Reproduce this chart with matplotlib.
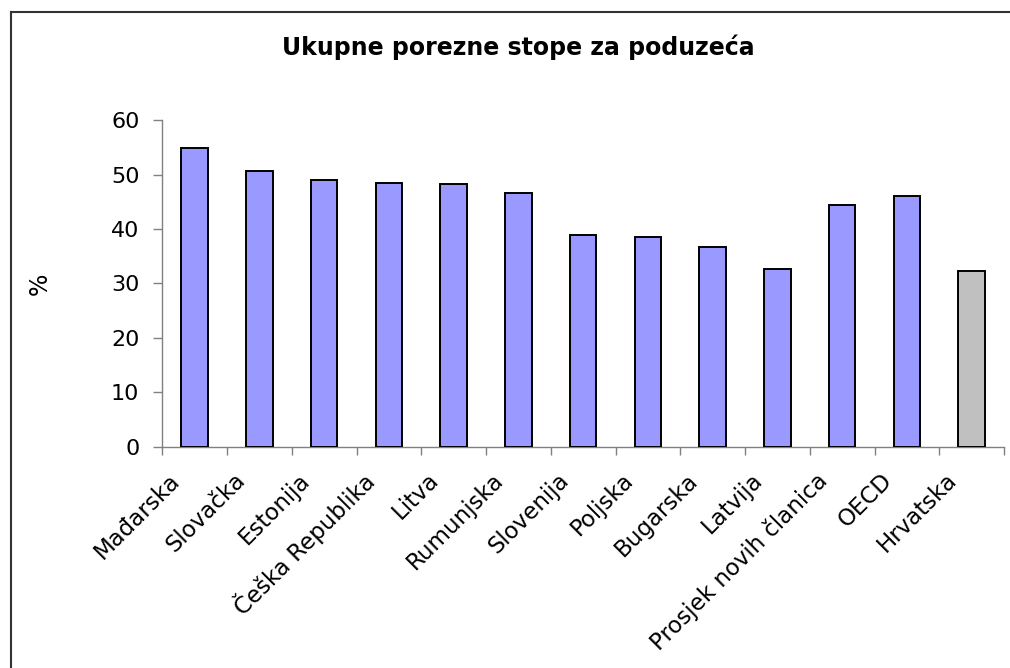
import matplotlib
matplotlib.use("Agg")
import matplotlib.pyplot as plt
import matplotlib.transforms as mtransforms
from matplotlib.lines import Line2D
import numpy as np

plt.rcParams['font.family'] = ['DejaVu Sans']

# podaci
zemlje = ["Mađarska", "Slovačka", "Estonija", "Češka Republika", "Litva",
          "Rumunjska", "Slovenija", "Poljska", "Bugarska", "Latvija",
          "Prosjek novih članica", "OECD", "Hrvatska"]
stope = [55.0, 50.6, 49.1, 48.5, 48.2, 46.7, 39.0, 38.5, 36.8, 32.6, 44.4, 46.1, 32.3]
boje = ["#9999FF"] * 12 + ["#C0C0C0"]

fig = plt.figure(figsize=(10.1, 6.68), dpi=100)
ax = fig.add_axes([0.1607, 0.3313, 0.8334, 0.4886])

x = np.arange(len(zemlje))
ax.bar(x, stope, width=0.41, color=boje, edgecolor="black", linewidth=1.4, zorder=3)

ax.set_xlim(-0.5, len(zemlje) - 0.5)
ax.set_ylim(0, 60)
ax.set_yticks(range(0, 61, 10))
ax.tick_params(axis="y", direction="out", length=6.5, width=1, color="#808080",
               labelsize=16, pad=10)

# oznake kategorija, crtice na granicama
ax.set_xticks(x)
ax.set_xticklabels(zemlje, rotation=45, ha="right", va="center",
                   rotation_mode="anchor", fontsize=16.5)
ax.set_xticks(np.arange(-0.5, len(zemlje)), minor=True)
ax.tick_params(axis="x", which="major", length=0, pad=0)
ax.tick_params(axis="x", which="minor", direction="out", length=6, width=1, color="#808080")
pomak = mtransforms.ScaledTranslation(-0.18, -0.30, fig.dpi_scale_trans)
for lbl in ax.get_xticklabels():
    lbl.set_transform(lbl.get_transform() + pomak)

for s in ["top", "right"]:
    ax.spines[s].set_visible(False)
for s in ["left", "bottom"]:
    ax.spines[s].set_color("#808080")
    ax.spines[s].set_linewidth(1)

ax.set_ylabel("%", fontsize=17)
ax.yaxis.set_label_coords(-0.131, 0.5)

fig.text(0.513, 0.9296, "Ukupne porezne stope za poduzeća", ha="center", va="center",
         fontsize=17, fontweight="bold")

# okvir grafikona
lx = 10.7 / 1010
ty = 1 - 11.7 / 668
fig.add_artist(Line2D([lx, lx], [0, ty], transform=fig.transFigure, color="#333333", lw=1.5))
fig.add_artist(Line2D([lx, 1], [ty, ty], transform=fig.transFigure, color="#333333", lw=1.5))

fig.savefig("out.png", dpi=100)
